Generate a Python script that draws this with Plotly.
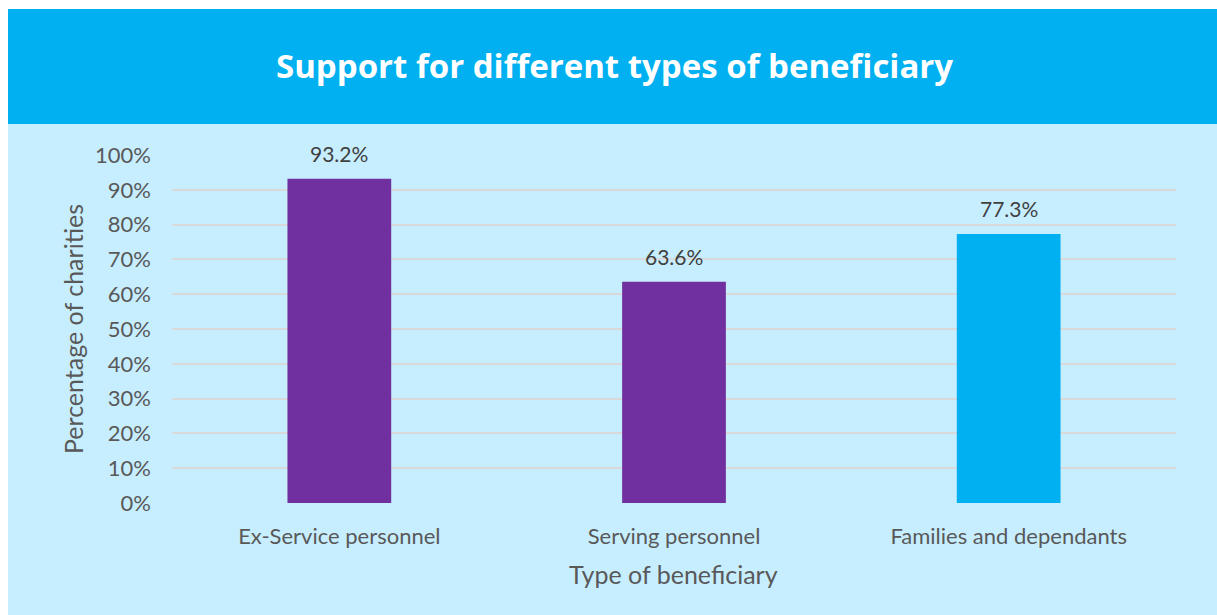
import plotly.graph_objects as go

# Share of charities supporting each beneficiary group
categories = ["Ex-Service personnel", "Serving personnel", "Families and dependants"]
values = [0.932, 0.636, 0.773]
bar_colors = ["#7030A0", "#7030A0", "#00B0F0"]

W, H = 1217, 615
x_left, x_right = 172 / W, 1176 / W
y_bottom, y_top = 1 - 503 / H, 1 - 155 / H
header_bottom, header_top = 1 - 124 / H, 1 - 9 / H
panel_left = 8 / W

FONT = "Lato, Open Sans, sans-serif"
label_font = dict(family=FONT, size=22, color="#595959")

fig = go.Figure(
    go.Bar(
        x=categories,
        y=values,
        marker=dict(color=bar_colors, line=dict(width=0)),
        width=0.31,
        hoverinfo="skip",
    )
)

# Data labels above each bar, taken from the same values
for cat, v in zip(categories, values):
    fig.add_annotation(
        x=cat, y=v, xref="x", yref="y",
        text=f"{v * 100:.1f}%", showarrow=False,
        yanchor="bottom", yshift=11,
        font=dict(family=FONT, size=21, color="#404040"),
    )

# Header band and light panel
fig.add_shape(type="rect", xref="paper", yref="paper",
              x0=panel_left, x1=1, y0=0, y1=header_bottom,
              fillcolor="#C7EEFF", line=dict(width=0), layer="below")
fig.add_shape(type="rect", xref="paper", yref="paper",
              x0=panel_left, x1=1, y0=header_bottom, y1=header_top,
              fillcolor="#00B0F0", line=dict(width=0), layer="below")

fig.add_annotation(
    x=614 / W, y=1 - 66 / H, xref="paper", yref="paper",
    text="<b>Support for different types of beneficiary</b>", showarrow=False,
    xanchor="center", yanchor="middle",
    font=dict(family="Open Sans, sans-serif", size=33, color="white"),
)

# Axis titles
fig.add_annotation(
    x=73 / W, y=1 - 329 / H, xref="paper", yref="paper",
    text="Percentage of charities", showarrow=False, textangle=-90,
    xanchor="center", yanchor="middle",
    font=dict(family=FONT, size=25, color="#595959"),
)
fig.add_annotation(
    x=673 / W, y=1 - 574 / H, xref="paper", yref="paper",
    text="Type of beneficiary", showarrow=False,
    xanchor="center", yanchor="middle",
    font=dict(family=FONT, size=25, color="#595959"),
)

fig.update_layout(
    width=W, height=H,
    margin=dict(l=0, r=0, t=0, b=0, autoexpand=False),
    paper_bgcolor="white",
    plot_bgcolor="rgba(0,0,0,0)",
    showlegend=False,
    xaxis=dict(
        domain=[x_left, x_right], automargin=False,
        showgrid=False, zeroline=False, showline=False,
        ticks="", tickfont=label_font, ticklabelstandoff=18,
        fixedrange=True,
    ),
    yaxis=dict(
        domain=[y_bottom, y_top], automargin=False,
        range=[0, 1], dtick=0.1, tickformat=".0%",
        showgrid=True, gridcolor="#D9D9D9", gridwidth=2,
        zeroline=False, showline=False,
        ticks="", tickfont=label_font, ticklabelstandoff=20,
        fixedrange=True,
    ),
)

fig.write_html("out.html", config={"displayModeBar": False})
